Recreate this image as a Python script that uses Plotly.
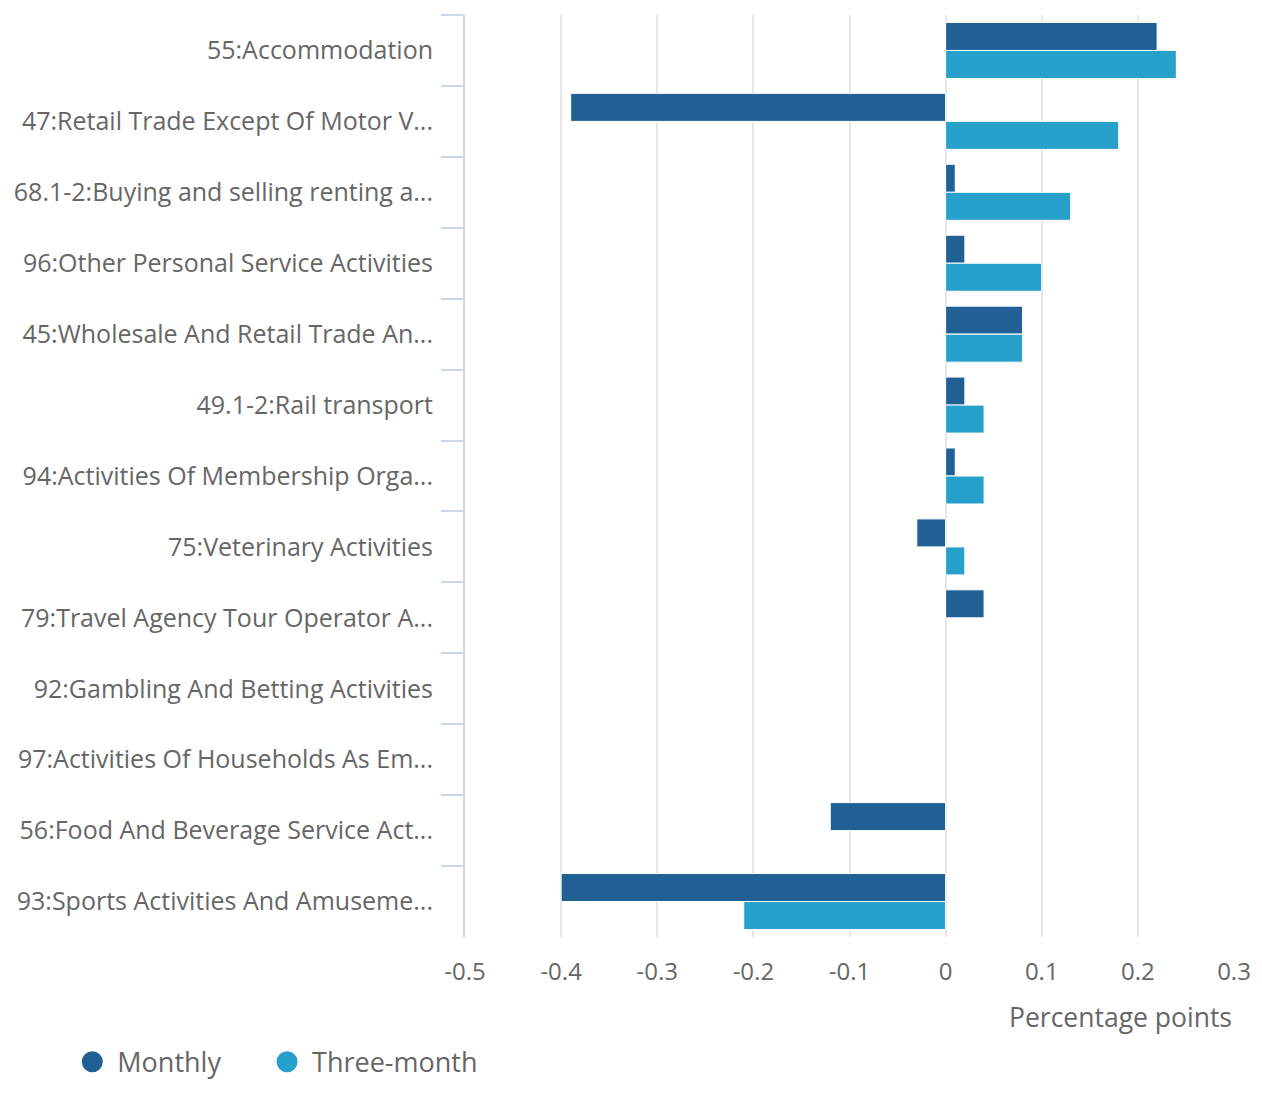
import plotly.graph_objects as go

categories = [
    "55:Accommodation",
    "47:Retail Trade Except Of Motor V...",
    "68.1-2:Buying and selling renting a...",
    "96:Other Personal Service Activities",
    "45:Wholesale And Retail Trade An...",
    "49.1-2:Rail transport",
    "94:Activities Of Membership Orga...",
    "75:Veterinary Activities",
    "79:Travel Agency Tour Operator A...",
    "92:Gambling And Betting Activities",
    "97:Activities Of Households As Em...",
    "56:Food And Beverage Service Act...",
    "93:Sports Activities And Amuseme...",
]
monthly = [0.22, -0.39, 0.01, 0.02, 0.08, 0.02, 0.01, -0.03, 0.04, None, None, -0.12, -0.40]
three_month = [0.24, 0.18, 0.13, 0.10, 0.08, 0.04, 0.04, 0.02, None, None, None, None, -0.21]
x_ticks = [-0.5, -0.4, -0.3, -0.2, -0.1, 0, 0.1, 0.2, 0.3]
x_ticklabels = ["-0.5", "-0.4", "-0.3", "-0.2", "-0.1", "0", "0.1", "0.2", "0.3"]

C_MONTHLY = "#206095"
C_THREE = "#27a0cc"
FONT = "Open Sans"
GREY = "#666666"

fig = go.Figure()
fig.add_trace(go.Bar(y=categories, x=monthly, orientation="h", name="Monthly",
                     marker=dict(color=C_MONTHLY, line=dict(width=1, color="white")),
                     showlegend=False))
fig.add_trace(go.Bar(y=categories, x=three_month, orientation="h", name="Three-month",
                     marker=dict(color=C_THREE, line=dict(width=1, color="white")),
                     showlegend=False))
# legend entries with circular symbols
for name, col, lg in [("Monthly", C_MONTHLY, "legend"), ("Three-month", C_THREE, "legend2")]:
    fig.add_trace(go.Scatter(x=[None], y=[None], mode="markers", name=name,
                             marker=dict(symbol="circle", size=16, color=col,
                                         line=dict(width=5, color=col)),
                             showlegend=True, legend=lg))

legend_common = dict(orientation="h", xref="container", yref="container",
                     xanchor="left", yanchor="middle",
                     font=dict(size=27, color=GREY), itemwidth=40,
                     bgcolor="rgba(0,0,0,0)")

fig.update_layout(
    width=1246, height=1079,
    margin=dict(l=457, r=20, t=7, b=150),
    barmode="group", bargap=0.21, bargroupgap=0,
    paper_bgcolor="white", plot_bgcolor="white",
    font=dict(family=FONT, size=25, color=GREY),
    legend=dict(x=0.0476, y=0.023, **legend_common),
    legend2=dict(x=0.2039, y=0.023, **legend_common),
    xaxis=dict(range=[-0.5, 0.3], tickvals=x_ticks, ticktext=x_ticklabels,
               showgrid=True, gridcolor="#e6e6e6", gridwidth=2,
               zeroline=False, showline=False, ticks="", automargin=False,
               ticklabelstandoff=18, ticklabeloverflow="allow",
               tickfont=dict(size=24, color=GREY)),
    yaxis=dict(autorange="reversed", type="category", automargin=False,
               showline=True, linecolor="#ccd6eb", linewidth=2,
               ticks="outside", ticklen=22, tickcolor="#ccd6eb", tickwidth=2,
               tickson="boundaries", showgrid=False,
               ticklabelstandoff=25,
               tickfont=dict(size=25, color=GREY)),
    annotations=[dict(text="Percentage points", xref="paper", yref="paper",
                      x=1, y=-0.087, xanchor="right", yanchor="middle",
                      showarrow=False, font=dict(size=26.5, color=GREY))],
)

fig.write_html("out.html")
